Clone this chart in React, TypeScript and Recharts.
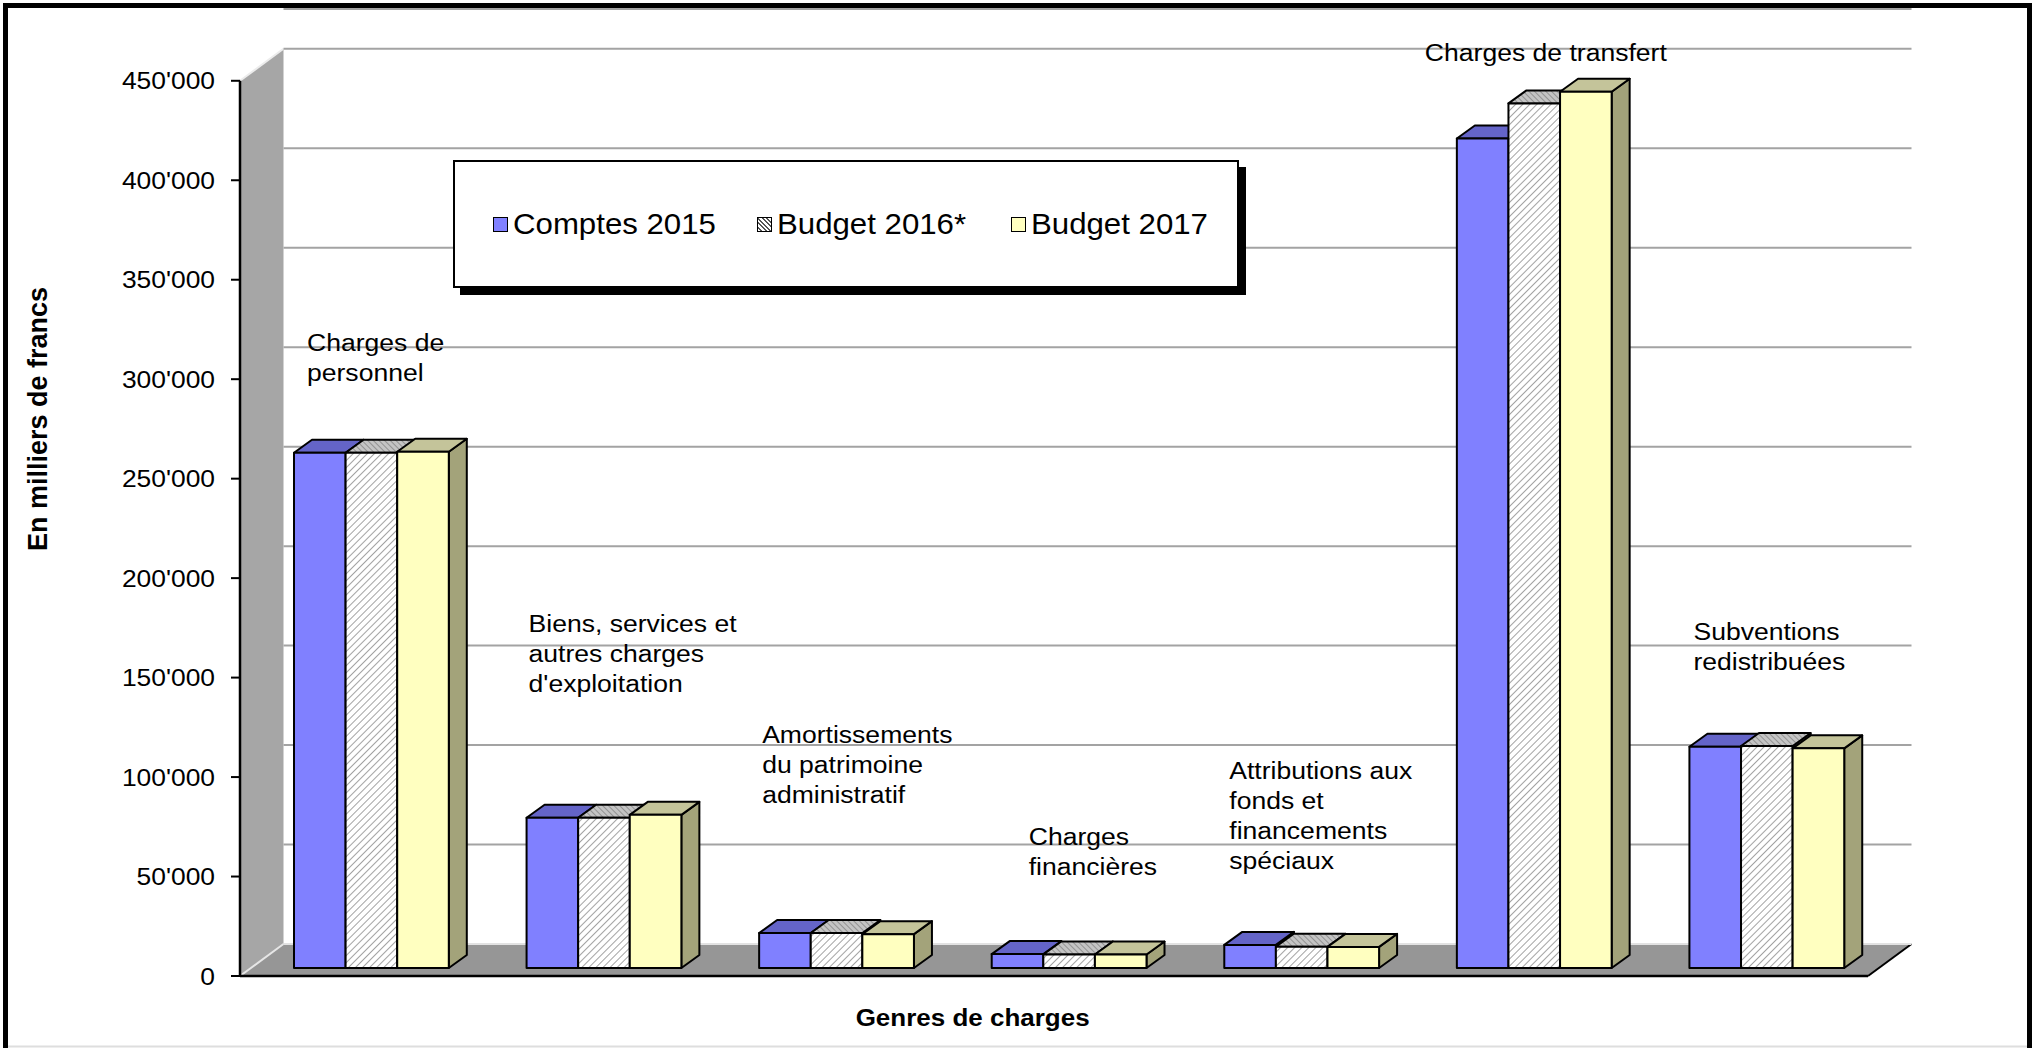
import { Bar, BarChart, CartesianGrid, LabelList, Legend, XAxis, YAxis } from "recharts";

const categories = [
  ["Charges de", "personnel"],
  ["Biens, services et", "autres charges", "d'exploitation"],
  ["Amortissements", "du patrimoine", "administratif"],
  ["Charges", "financières"],
  ["Attributions aux", "fonds et", "financements", "spéciaux"],
  ["Charges de transfert"],
  ["Subventions", "redistribuées"],
];
const seriesNames = ["Comptes 2015", "Budget 2016*", "Budget 2017"];
const comptes2015 = [259000, 75500, 17600, 7000, 11600, 417000, 111200];
const budget2016 = [259000, 75500, 17600, 6800, 10700, 434600, 111600];
const budget2017 = [259500, 77000, 17000, 6800, 10600, 440500, 110400];
const yTicks = [0, 50000, 100000, 150000, 200000, 250000, 300000, 350000, 400000, 450000];
const edgeTicks = [0, 1, 2, 3, 4, 5, 6, 7];

// layout
const W = 2036;
const H = 1048;
const PL = 240;
const PR = 1868;
const PT = 41;
const PB = 976;
const YMAX = 470000;
const K = (PB - PT) / YMAX;
const WALL = { dx: 43.5, dy: -32 };
const SHIFT = { dx: 15, dy: -8 };
const BOX = { dx: 18, dy: -13 };
const FONT = '"Liberation Sans", Arial, sans-serif';
const SX = 1.13;

// category text boxes: x relative to first bar, y of first line centre
const labelLayout = [
  { dx: 28, y: 343 },
  { dx: 17, y: 624 },
  { dx: 18, y: 735 },
  { dx: 52, y: 837 },
  { dx: 20, y: 771 },
  { dx: -17, y: 53 },
  { dx: 19, y: 632 },
];

const rows = categories.map((c, i) => ({
  name: c.join(" "),
  c2015: comptes2015[i],
  b2016: budget2016[i],
  b2017: budget2017[i],
}));

const fmt = (v: number) => String(v).replace(/\B(?=(\d{3})+(?!\d))/g, "'");

function makeShape(front: string, top: string, side: string) {
  return (p: any) => {
    const x = p.x + SHIFT.dx;
    const y = p.y + SHIFT.dy;
    const w = p.width;
    const h = p.height;
    if (!w || h == null) return <g />;
    const s = { stroke: "#000", strokeWidth: 2, strokeLinejoin: "round" as const };
    return (
      <g>
        <polygon
          points={`${x + w},${y} ${x + w + BOX.dx},${y + BOX.dy} ${x + w + BOX.dx},${y + h + BOX.dy} ${x + w},${y + h}`}
          fill={side}
          {...s}
        />
        <polygon
          points={`${x},${y} ${x + w},${y} ${x + w + BOX.dx},${y + BOX.dy} ${x + BOX.dx},${y + BOX.dy}`}
          fill={top}
          {...s}
        />
        <rect x={x} y={y} width={w} height={h} fill={front} {...s} />
      </g>
    );
  };
}

const YTick = (p: any) => (
  <text
    transform={`translate(${p.x},${p.y + 8.5}) scale(1.1,1)`}
    textAnchor="end"
    fontSize={24}
    fontFamily={FONT}
    fill="#000"
  >
    {fmt(p.payload.value)}
  </text>
);

const YTitle = (p: any) => {
  const vb = p.viewBox || { x: 0 };
  return (
    <text
      transform={`translate(${vb.x + 38},419) rotate(-90)`}
      textAnchor="middle"
      dominantBaseline="central"
      fontSize={27}
      fontWeight="bold"
      fontFamily={FONT}
      fill="#000"
    >
      En milliers de francs
    </text>
  );
};

const XTitle = (p: any) => {
  const vb = p.viewBox || { x: PL, y: PB, width: PR - PL };
  return (
    <text
      transform={`translate(${vb.x + 0.45 * vb.width},${vb.y + 42}) scale(${SX},1)`}
      textAnchor="middle"
      dominantBaseline="central"
      fontSize={23}
      fontWeight="bold"
      fontFamily={FONT}
      fill="#000"
    >
      Genres de charges
    </text>
  );
};

const CategoryLabel = (p: any) => {
  const i = p.index;
  const lay = labelLayout[i];
  const bx = p.x ?? p.viewBox?.x ?? 0;
  const fs = 23.5;
  return (
    <g transform={`translate(${bx + lay.dx},${lay.y}) scale(${SX},1)`}>
      <text fontSize={fs} fontFamily={FONT} fill="#000">
        {categories[i].map((line, j) => (
          <tspan key={j} x={0} y={j * 30 + fs * 0.355}>
            {line}
          </tspan>
        ))}
      </text>
    </g>
  );
};

const swatches = [
  { background: "#8080FF" },
  { background: "repeating-linear-gradient(45deg, #fff 0 2px, #555 2px 3.2px)" },
  { background: "#FFFFC0" },
];
const legendLeft = [38, 302, 556];

const LegendBox = () => (
  <div
    style={{
      width: 786,
      height: 128,
      boxSizing: "border-box",
      border: "2px solid #000",
      boxShadow: "7px 7px 0 #000",
      background: "#fff",
      position: "relative",
      fontFamily: FONT,
    }}
  >
    {seriesNames.map((n, i) => (
      <div
        key={n}
        style={{ position: "absolute", left: legendLeft[i], top: 0, bottom: 0, display: "flex", alignItems: "center" }}
      >
        <div style={{ width: 13, height: 13, border: "1.5px solid #000", ...swatches[i] }} />
        <span
          style={{
            display: "inline-block",
            marginLeft: 5,
            fontSize: 30,
            color: "#000",
            whiteSpace: "nowrap",
            transform: "scaleX(1.04)",
            transformOrigin: "left center",
          }}
        >
          {n}
        </span>
      </div>
    ))}
  </div>
);

const GridLine = (p: any) => {
  const atZero = Math.abs(p.y1 - PB) < 1;
  return (
    <line
      key={`g-${p.index}`}
      x1={p.x1 + WALL.dx}
      x2={p.x2 + WALL.dx}
      y1={p.y1 + WALL.dy}
      y2={p.y2 + WALL.dy}
      stroke={atZero ? "#e2e2e2" : "#a3a3a3"}
      strokeWidth={2}
    />
  );
};

function Backdrop() {
  const yTop = PB - 450000 * K;
  return (
    <svg width={W} height={H} style={{ position: "absolute", left: 0, top: 0 }}>
      <defs>
        <pattern id="hatchFront" width="5" height="5" patternUnits="userSpaceOnUse" patternTransform="rotate(45)">
          <rect width="5" height="5" fill="#fff" />
          <line x1="0" y1="0" x2="0" y2="5" stroke="#8c8c8c" strokeWidth="1.6" />
        </pattern>
        <pattern id="hatchTop" width="4" height="4" patternUnits="userSpaceOnUse" patternTransform="rotate(-45)">
          <rect width="4" height="4" fill="#c4c4c4" />
          <line x1="0" y1="0" x2="0" y2="4" stroke="#7c7c7c" strokeWidth="1.4" />
        </pattern>
        <pattern id="hatchSide" width="4" height="4" patternUnits="userSpaceOnUse" patternTransform="rotate(45)">
          <rect width="4" height="4" fill="#a8a8a8" />
          <line x1="0" y1="0" x2="0" y2="4" stroke="#707070" strokeWidth="1.4" />
        </pattern>
      </defs>
      <rect width={W} height={H} fill="#fff" />
      <polygon
        points={`${PL},${yTop} ${PL + WALL.dx},${yTop + WALL.dy} ${PL + WALL.dx},${PB + WALL.dy} ${PL},${PB}`}
        fill="#a6a6a6"
      />
      <polygon
        points={`${PL},${PB} ${PR},${PB} ${PR + WALL.dx},${PB + WALL.dy} ${PL + WALL.dx},${PB + WALL.dy}`}
        fill="#969696"
      />
      <line x1={PL} y1={yTop} x2={PL + WALL.dx} y2={yTop + WALL.dy} stroke="#ececec" strokeWidth={2} />
      <line x1={PL} y1={PB} x2={PL + WALL.dx} y2={PB + WALL.dy} stroke="#e6e6e6" strokeWidth={2} />
      <line x1={PL} y1={yTop} x2={PL} y2={PB} stroke="#000" strokeWidth={2.5} />
      <line x1={PR} y1={PB} x2={PR + WALL.dx} y2={PB + WALL.dy} stroke="#000" strokeWidth={2} />
      <line x1={8} y1={1046.5} x2={2027} y2={1046.5} stroke="#dedede" strokeWidth={2} />
      <rect x={5.5} y={5.5} width={2024} height={1070} fill="none" stroke="#000" strokeWidth={5} />
    </svg>
  );
}

export default function App() {
  return (
    <div style={{ position: "absolute", left: 0, top: 0, width: W, height: H, overflow: "hidden", background: "#fff" }}>
      <Backdrop />
      <div style={{ position: "absolute", left: 0, top: 0 }}>
        <BarChart
          width={W}
          height={H}
          data={rows}
          margin={{ top: PT, right: W - PR, bottom: 0, left: 0 }}
          barSize={51.6}
          barGap={0}
        >
          <CartesianGrid vertical={false} horizontal={GridLine} />
          <XAxis xAxisId="cat" dataKey="name" type="category" hide />
          <XAxis
            type="number"
            domain={[0, 7]}
            ticks={edgeTicks}
            allowDataOverflow
            height={H - PB}
            tick={false}
            tickSize={10}
            tickLine={{ stroke: "#000", strokeWidth: 2 }}
            axisLine={{ stroke: "#000", strokeWidth: 2.5 }}
            label={XTitle}
          />
          <YAxis
            type="number"
            domain={[0, YMAX]}
            ticks={yTicks}
            interval={0}
            width={PL}
            axisLine={false}
            tickSize={9}
            tickMargin={16}
            tickLine={{ stroke: "#000", strokeWidth: 2 }}
            tick={YTick}
            label={YTitle}
          />
          <Legend
            layout="horizontal"
            verticalAlign="middle"
            align="center"
            wrapperStyle={{ left: 453, top: 160, width: 786, height: 128 }}
            content={LegendBox}
          />
          <Bar
            xAxisId="cat"
            dataKey="c2015"
            name={seriesNames[0]}
            fill="#8080FF"
            shape={makeShape("#8080FF", "#6464C8", "#4f4f9e")}
            isAnimationActive={false}
          >
            <LabelList dataKey="c2015" content={CategoryLabel} />
          </Bar>
          <Bar
            xAxisId="cat"
            dataKey="b2016"
            name={seriesNames[1]}
            fill="#dddddd"
            shape={makeShape("url(#hatchFront)", "url(#hatchTop)", "url(#hatchSide)")}
            isAnimationActive={false}
          />
          <Bar
            xAxisId="cat"
            dataKey="b2017"
            name={seriesNames[2]}
            fill="#FFFFC0"
            shape={makeShape("#FFFFC0", "#C4C49A", "#A3A37A")}
            isAnimationActive={false}
          />
        </BarChart>
      </div>
    </div>
  );
}
